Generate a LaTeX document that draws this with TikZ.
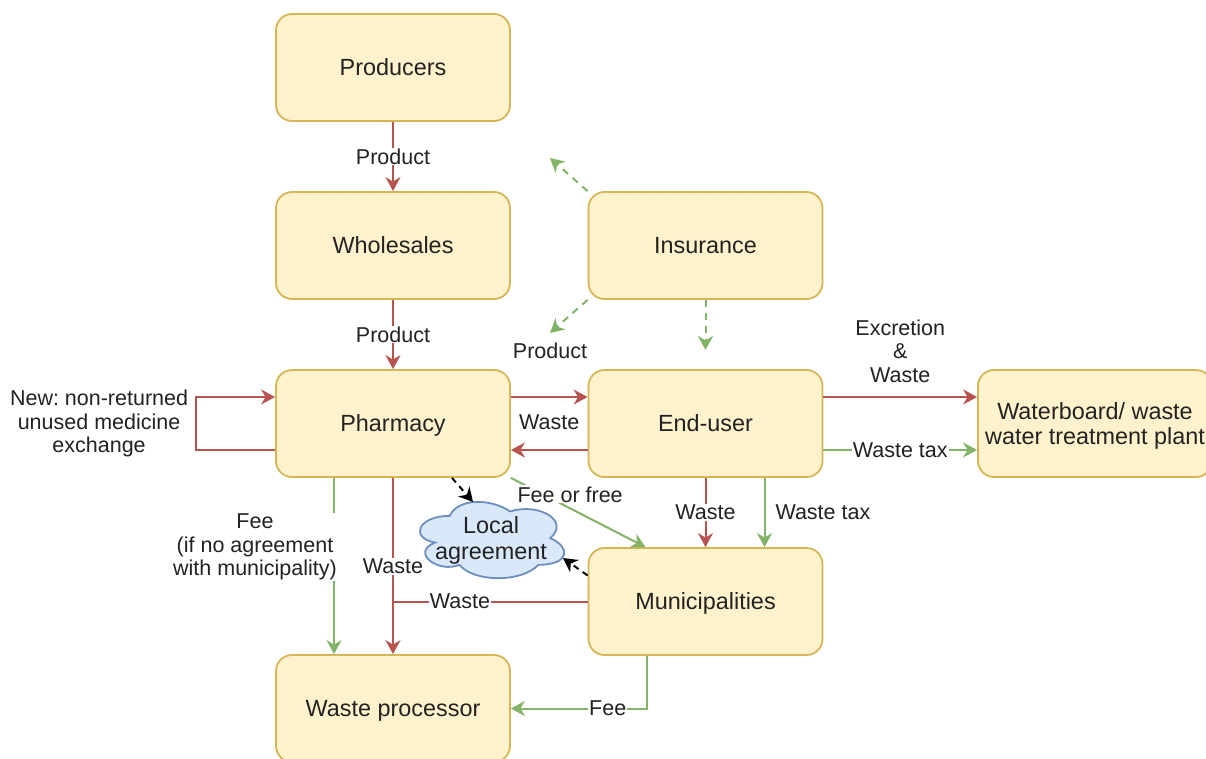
\documentclass[tikz,border=0pt]{standalone}
\usepackage{fontspec}
\setmainfont{Liberation Sans}
\usetikzlibrary{arrows.meta}
\frenchspacing
\definecolor{boxfill}{HTML}{FFF2CC}
\definecolor{boxline}{HTML}{D6B656}
\definecolor{cloudfill}{HTML}{DAE8FC}
\definecolor{cloudline}{HTML}{6C8EBF}
\definecolor{redl}{HTML}{B85450}
\definecolor{greenl}{HTML}{82B366}
\definecolor{txt}{HTML}{222222}
\begin{document}
\begin{tikzpicture}[x=1pt,y=-1pt,
  box/.style={draw=boxline, fill=boxfill, line width=1.8pt, rounded corners=16pt,
    minimum width=234pt, minimum height=107pt, font=\fontsize{23.4}{25}\selectfont,
    text=txt, inner sep=0pt, align=center},
  onebox/.style={box, text height=21.1pt, text depth=4.9pt},
  lbl/.style={font=\fontsize{21.5}{23.5}\selectfont, text=txt, fill=white, inner sep=1pt, align=center},
  tipa/.style={-{Stealth[length=14pt,width=15pt,inset=4.5pt]}},
  redarr/.style={draw=redl, line width=2pt, tipa},
  redline/.style={draw=redl, line width=2pt},
  greenarr/.style={draw=greenl, line width=2pt, tipa},
  greendash/.style={draw=greenl, line width=2pt, dash pattern=on 7pt off 6pt, tipa},
  blackdash/.style={draw=black, line width=2pt, dash pattern=on 6pt off 5pt, tipa},
  cloudshape/.style={draw=cloudline, fill=cloudfill, line width=1.8pt}
]
\useasboundingbox[fill=white] (0,0) rectangle (1206,758);

% boxes
\node[onebox] (prod)  at (393,67.5)  {Producers};
\node[onebox] (whole) at (393,245.5) {Wholesales};
\node[onebox] (ins)   at (705.5,245.5) {Insurance};
\node[onebox] (pharm) at (393,423.5) {Pharmacy};
\node[onebox] (end)   at (705.5,423.5) {End-user};
\node[box] (water) at (1095,423.5) {\rule{0pt}{0.9em}Waterboard/ waste\\water treatment plant\rule[-0.21em]{0pt}{0.21em}};
\node[onebox] (muni)  at (705.5,601.5) {Municipalities};
\node[onebox] (wproc) at (393,708.5) {Waste processor};

% cloud (draw.io cloud outline)
\begin{scope}[shift={(409.5,493.6)}, x=161pt, y=-89pt]
\draw[cloudshape] (0.25,0.25)
  .. controls (0.05,0.25) and (0,0.5) .. (0.16,0.55)
  .. controls (0,0.66) and (0.18,0.9) .. (0.31,0.8)
  .. controls (0.4,1) and (0.7,1) .. (0.8,0.8)
  .. controls (1,0.8) and (1,0.6) .. (0.875,0.5)
  .. controls (1,0.3) and (0.8,0.1) .. (0.625,0.2)
  .. controls (0.5,0.05) and (0.3,0.05) .. (0.25,0.25) -- cycle;
\end{scope}
\node[font=\fontsize{23.4}{26}\selectfont, text=txt, align=center, inner sep=0pt] (agr) at (491,540) {Local\\agreement};

% free ends
\coordinate (insUL) at (550,158);
\coordinate (insLL) at (550,333);
\coordinate (insD) at (705.5,350);
\coordinate (wj) at (393,601.5);

% producers chain
\draw[redarr] (prod) -- node[lbl]{Product} (whole);
\draw[redarr] (whole) -- node[lbl]{Product} (pharm);

% pharmacy <-> end-user
\draw[redarr] ([yshift=26.5pt]pharm.east) -- ([yshift=26.5pt]end.west);
\draw[redarr] ([yshift=-26.5pt]end.west) -- node[lbl, fill=none, yshift=28pt]{Waste} ([yshift=-26.5pt]pharm.east);

% loop
\draw[redarr] ([yshift=-26.5pt]pharm.west) -- ++(-79,0)
  -- node[lbl, fill=none, left=6pt]{New: non-returned\\unused medicine\\exchange} ++(0,-53)
  -- ([yshift=26.5pt]pharm.west);

% insurance
\draw[greendash] (ins.north west) -- (insUL);
\draw[greendash] (ins.south west) -- (insLL) node[lbl, fill=none, pos=1, yshift=-18pt]{Product};
\draw[greendash] (ins.south) -- (insD);

% end-user -> waterboard
\draw[redarr] ([yshift=26.5pt]end.east) -- node[lbl, fill=none, yshift=46pt]{Excretion\\\&\\Waste} ([yshift=26.5pt]water.west);
\draw[greenarr] ([yshift=-26.5pt]end.east) -- node[lbl]{Waste tax} ([yshift=-26.5pt]water.west);

% end-user -> municipalities
\draw[redarr] (end) -- node[lbl]{Waste} (muni);
\draw[greenarr] ([xshift=59pt]end.south) -- node[lbl, fill=none, anchor=west, xshift=9pt]{Waste tax} ([xshift=59pt]muni.north);

% pharmacy -> municipalities
\draw[greenarr] (pharm.south east) -- node[lbl, pos=0.44, yshift=14pt]{Fee or free} ([xshift=-60pt]muni.north);

% local agreement
\draw[blackdash] ([xshift=59pt]pharm.south) -- ([shift={(-18,-38)}]agr.center);
\draw[blackdash] ([yshift=26pt]muni.west) -- ([shift={(72,18)}]agr.center);

% pharmacy -> waste processor
\draw[greenarr] ([xshift=-59pt]pharm.south) -- node[lbl, xshift=-79pt, yshift=19pt]{Fee\\(if no agreement\\with municipality)} ([xshift=-59pt]wproc.north);
\draw[redarr] (pharm) -- node[lbl]{Waste} (wproc);

% municipalities -> waste processor
\draw[redline] (muni.west) -- node[lbl, pos=0.656]{Waste} (wj);
\draw[greenarr] ([xshift=-59pt]muni.south) |- node[lbl, pos=0.643]{Fee} (wproc.east);

\end{tikzpicture}
\end{document}
